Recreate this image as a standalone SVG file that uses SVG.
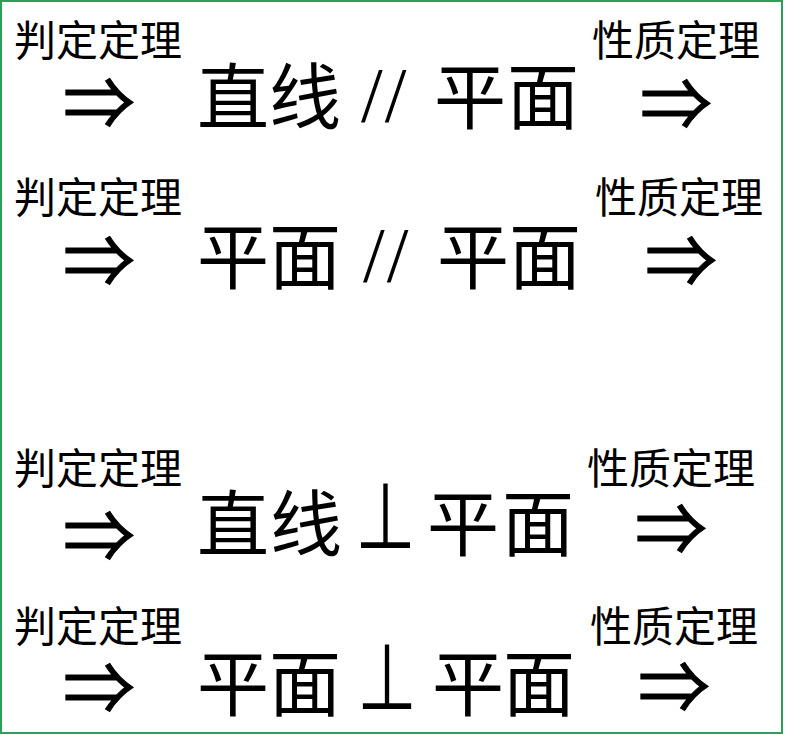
<svg xmlns="http://www.w3.org/2000/svg" width="786" height="735" viewBox="0 0 786 735">
<style>
.lbl{font-family:"Noto Sans CJK SC","Noto Sans CJK JP",sans-serif;font-size:42px;fill:#000}
.big{font-family:"Noto Sans CJK SC","Noto Sans CJK JP",sans-serif;font-size:72px;fill:#000}
.arr{font-family:"Noto Sans CJK JP","Noto Sans CJK SC",sans-serif;font-size:72px;fill:#000;stroke:#000;stroke-width:1}
.sl{font-family:"Liberation Serif",serif;font-size:78px;fill:#000}
.perp{font-family:"DejaVu Sans",sans-serif;font-size:92px;fill:#000}
</style>
<rect x="1" y="1" width="781" height="732" fill="#fff" stroke="#2ca05a" stroke-width="2"/>
<g id="row1">
  <text class="lbl" x="14" y="56" textLength="168" lengthAdjust="spacing">判定定理</text>
  <text class="lbl" x="592" y="56" textLength="168" lengthAdjust="spacing">性质定理</text>
  <text class="arr" x="63" y="129" textLength="72" lengthAdjust="spacingAndGlyphs">⇒</text>
  <text class="arr" x="640" y="130" textLength="72" lengthAdjust="spacingAndGlyphs">⇒</text>
  <text class="big" x="197" y="123">直</text>
  <text class="big" x="269" y="123">线</text>
  <text class="sl" x="361" y="121" letter-spacing="2">//</text>
  <text class="big" x="434" y="123">平</text>
  <text class="big" x="507" y="123">面</text>
</g>
<g id="row2">
  <text class="lbl" x="14" y="213" textLength="168" lengthAdjust="spacing">判定定理</text>
  <text class="lbl" x="595" y="213" textLength="168" lengthAdjust="spacing">性质定理</text>
  <text class="arr" x="63" y="287" textLength="72" lengthAdjust="spacingAndGlyphs">⇒</text>
  <text class="arr" x="645" y="287" textLength="72" lengthAdjust="spacingAndGlyphs">⇒</text>
  <text class="big" x="197" y="283">平</text>
  <text class="big" x="269" y="283">面</text>
  <text class="sl" x="363" y="281" letter-spacing="2">//</text>
  <text class="big" x="437" y="283">平</text>
  <text class="big" x="509" y="283">面</text>
</g>
<g id="row3">
  <text class="lbl" x="14" y="484" textLength="168" lengthAdjust="spacing">判定定理</text>
  <text class="lbl" x="587" y="484" textLength="168" lengthAdjust="spacing">性质定理</text>
  <text class="arr" x="63" y="562" textLength="72" lengthAdjust="spacingAndGlyphs">⇒</text>
  <text class="arr" x="635" y="555" textLength="72" lengthAdjust="spacingAndGlyphs">⇒</text>
  <text class="big" x="197" y="550">直</text>
  <text class="big" x="270" y="550">线</text>
  <text class="perp" x="355" y="548" textLength="61" lengthAdjust="spacingAndGlyphs">⊥</text>
  <text class="big" x="427" y="550">平</text>
  <text class="big" x="502" y="550">面</text>
</g>
<g id="row4">
  <text class="lbl" x="14" y="642" textLength="168" lengthAdjust="spacing">判定定理</text>
  <text class="lbl" x="590" y="642" textLength="168" lengthAdjust="spacing">性质定理</text>
  <text class="arr" x="63" y="714" textLength="72" lengthAdjust="spacingAndGlyphs">⇒</text>
  <text class="arr" x="638" y="713" textLength="72" lengthAdjust="spacingAndGlyphs">⇒</text>
  <text class="big" x="197" y="710">平</text>
  <text class="big" x="269" y="710">面</text>
  <text class="perp" x="357" y="709" textLength="60" lengthAdjust="spacingAndGlyphs">⊥</text>
  <text class="big" x="432" y="710">平</text>
  <text class="big" x="503" y="710">面</text>
</g>
</svg>
